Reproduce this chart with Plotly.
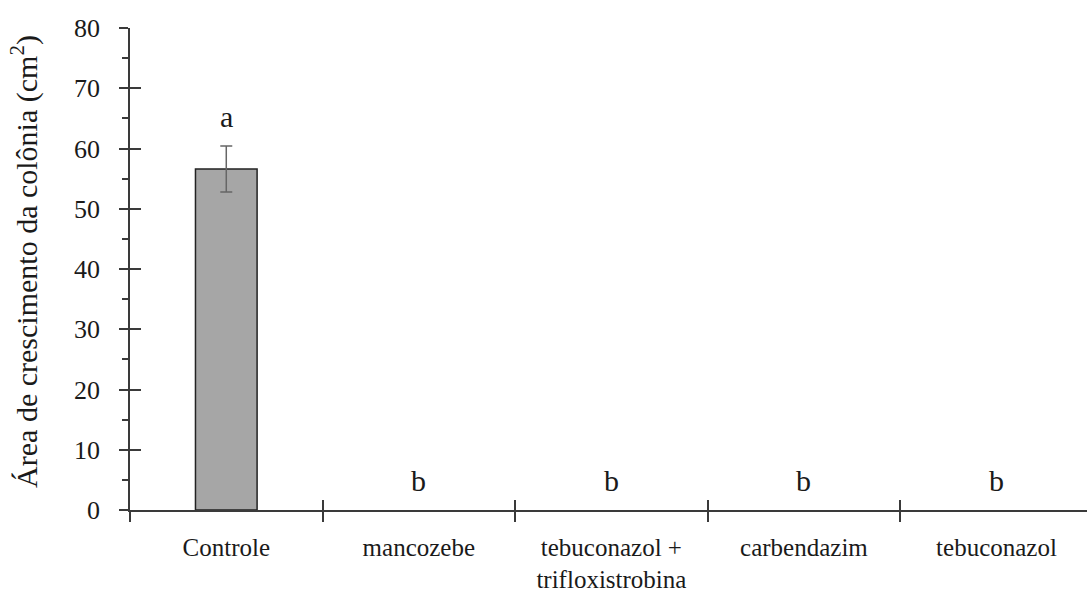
import plotly.graph_objects as go

categories = ["Controle", "mancozebe", "tebuconazol +<br>trifloxistrobina", "carbendazim", "tebuconazol"]
means = [56.6, 0, 0, 0, 0]
errors = [3.8, 0, 0, 0, 0]
letters = ["a", "b", "b", "b", "b"]
y_ticks = [0, 10, 20, 30, 40, 50, 60, 70, 80]

n = len(categories)
pos = list(range(n))
bounds = [i - 0.5 for i in range(n + 1)]

FONT = "Times New Roman, Liberation Serif, DejaVu Serif, serif"
AX = "#3a3a3a"
TXT = "#1a1a1a"

# zero-height bars are not drawn at all (as in the reference)
bar_y = [m if m > 0 else None for m in means]
bar_err = [e if e > 0 else None for e in errors]

fig = go.Figure()
fig.add_trace(go.Bar(
    x=pos, y=bar_y, width=0.32,
    marker=dict(color="#a6a6a6", line=dict(color="#222222", width=1.5)),
    error_y=dict(type="data", array=bar_err, visible=True,
                 color="#666666", thickness=1.5, width=6),
    showlegend=False, hoverinfo="skip",
))
# invisible helper trace on overlay axes (for crossing ticks)
fig.add_trace(go.Scatter(x=pos, y=means, xaxis="x2", yaxis="y2", mode="markers",
                         marker=dict(opacity=0), showlegend=False, hoverinfo="skip"))

for p, m, e, l in zip(pos, means, errors, letters):
    fig.add_annotation(x=p, y=m + e, text=l, showarrow=False, yanchor="bottom", yshift=11,
                       font=dict(family=FONT, size=30, color=TXT))

fig.update_layout(
    width=1087, height=598,
    margin=dict(l=130, r=0, t=28, b=88),
    paper_bgcolor="white", plot_bgcolor="white",
    font=dict(family=FONT, size=26, color=TXT),
    xaxis=dict(
        range=[-0.5, n - 0.53], showgrid=False, zeroline=False, automargin=False,
        showline=True, linecolor=AX, linewidth=1.5,
        tickmode="array", tickvals=pos, ticktext=categories, ticks="", ticklen=0,
        ticklabelstandoff=14,
        tickfont=dict(family=FONT, size=25, color=TXT),
        minor=dict(tickmode="array", tickvals=bounds, ticks="outside", ticklen=10, tickcolor=AX, tickwidth=1.5),
        fixedrange=True,
    ),
    xaxis2=dict(
        overlaying="x", matches="x", anchor="y", showgrid=False, zeroline=False, showline=False,
        automargin=False,
        tickmode="array", tickvals=bounds[1:], ticks="inside", ticklen=10, tickcolor=AX, tickwidth=1.5,
        showticklabels=False,
    ),
    yaxis=dict(
        range=[0, 80], showgrid=False, zeroline=False, automargin=False,
        showline=True, linecolor=AX, linewidth=1.5,
        tickmode="array", tickvals=y_ticks, ticks="outside", ticklen=9, tickcolor=AX, tickwidth=1.5,
        ticklabelstandoff=14,
        tickfont=dict(family=FONT, size=26, color=TXT),
        minor=dict(dtick=5, ticks="outside", ticklen=6, tickcolor=AX, tickwidth=1.5),
        title=dict(text="&nbsp;&nbsp;Área de crescimento da colônia (cm<sup>2</sup>)", standoff=28,
                   font=dict(family=FONT, size=30, color=TXT)),
    ),
    yaxis2=dict(
        overlaying="y", matches="y", anchor="x", showgrid=False, zeroline=False, showline=False,
        automargin=False,
        tickmode="array", tickvals=y_ticks, ticks="inside", ticklen=11, tickcolor=AX, tickwidth=1.5,
        showticklabels=False,
    ),
)

fig.write_html("out.html", config={"displayModeBar": False},
               post_script="document.body.style.margin='0';document.body.style.overflow='hidden';")
